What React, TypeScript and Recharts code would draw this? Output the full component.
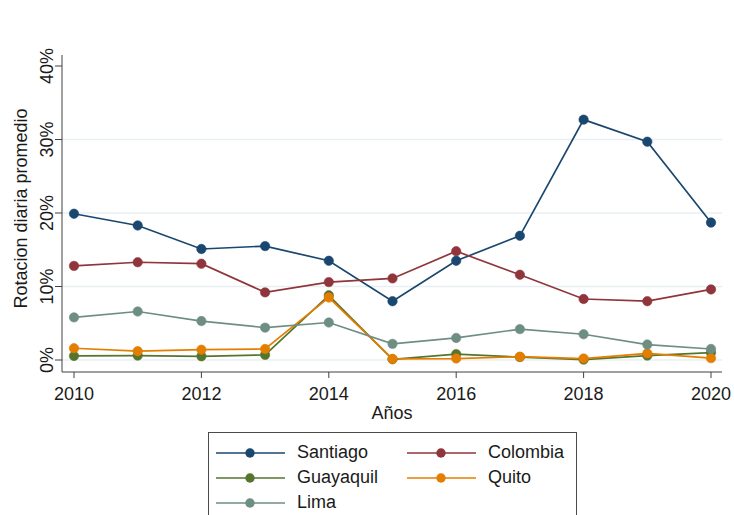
import React from 'react';
import { LineChart, Line, XAxis, YAxis, ReferenceLine, Legend } from 'recharts';

const years = [2010, 2011, 2012, 2013, 2014, 2015, 2016, 2017, 2018, 2019, 2020];
const santiago = [19.9, 18.3, 15.1, 15.5, 13.5, 8.0, 13.5, 16.9, 32.7, 29.7, 18.7];
const colombia = [12.8, 13.3, 13.1, 9.2, 10.6, 11.1, 14.8, 11.6, 8.3, 8.0, 9.6];
const guayaquil = [0.55, 0.6, 0.5, 0.7, 8.8, 0.1, 0.8, 0.4, 0.05, 0.6, 1.0];
const quito = [1.6, 1.2, 1.4, 1.5, 8.5, 0.15, 0.2, 0.45, 0.2, 0.9, 0.25];
const lima = [5.8, 6.6, 5.3, 4.4, 5.1, 2.2, 3.0, 4.2, 3.5, 2.1, 1.5];

const xTicks = [2010, 2012, 2014, 2016, 2018, 2020];
const yTicks = [0, 10, 20, 30, 40];
const gridValues = [0, 10, 20, 30];

const seriesNames = ['Santiago', 'Colombia', 'Guayaquil', 'Quito', 'Lima'];
const seriesColors = ['#1a476f', '#90353b', '#55752f', '#e37e00', '#6e8e84'];
const seriesValues = [santiago, colombia, guayaquil, quito, lima];

const data = years.map((year, i) => {
  const row: Record<string, number> = { year };
  seriesNames.forEach((name, s) => {
    row[name] = seriesValues[s][i];
  });
  return row;
});

const FONT = '"Liberation Sans", Arial, sans-serif';

// y tick labels are rotated like the Stata original
const YTick = (props: any) => {
  const { x, y, payload } = props;
  return (
    <text
      x={x}
      y={y}
      transform={`rotate(-90 ${x} ${y})`}
      textAnchor="middle"
      fontSize={18}
      fill="#1a1a1a"
      fontFamily={FONT}
    >
      {payload.value}%
    </text>
  );
};

const LegendBox = () => (
  <div
    style={{
      border: '1px solid #4a4a4a',
      boxSizing: 'border-box',
      width: 369,
      height: 100,
      background: '#fff',
      padding: '7px 0 0 7px',
      display: 'grid',
      gridTemplateColumns: '191px 170px',
      gridAutoRows: '25px',
      fontFamily: FONT,
      fontSize: 18,
      color: '#1a1a1a',
    }}
  >
    {seriesNames.map((name, i) => (
      <div key={name} style={{ display: 'flex', alignItems: 'center', height: 25 }}>
        <svg width={81} height={12} style={{ display: 'block' }}>
          <line x1={0} y1={6} x2={69} y2={6} stroke={seriesColors[i]} strokeWidth={1.7} />
          <circle cx={34} cy={6} r={4.7} fill={seriesColors[i]} />
        </svg>
        <span>{name}</span>
      </div>
    ))}
  </div>
);

export default function App() {
  return (
    <div style={{ position: 'absolute', left: 0, top: 0, width: 734, height: 515, overflow: 'hidden', background: '#fff' }}>
      <LineChart width={734} height={515} data={data} margin={{ top: 55, right: 12, bottom: 93, left: 0 }}>
        <XAxis
          dataKey="year"
          type="number"
          domain={[2010, 2020]}
          ticks={xTicks}
          padding={{ left: 12, right: 11 }}
          height={50}
          stroke="#404040"
          tickSize={6}
          tickMargin={9}
          tick={{ fontSize: 18, fill: '#1a1a1a', fontFamily: FONT }}
          label={{ value: 'Años', position: 'insideBottom', offset: 3, fontSize: 18, fill: '#1a1a1a', fontFamily: FONT }}
        />
        <YAxis
          type="number"
          domain={[0, 40]}
          ticks={yTicks}
          padding={{ top: 11, bottom: 12 }}
          width={62}
          stroke="#404040"
          tickSize={7}
          tickMargin={2}
          tick={<YTick />}
          label={{
            value: 'Rotacion diaria promedio',
            angle: -90,
            position: 'center',
            dx: -10.5,
            dy: -5,
            fontSize: 18,
            fill: '#1a1a1a',
            fontFamily: FONT,
          }}
        />
        {gridValues.map((v) => (
          <ReferenceLine key={v} y={v} stroke="#e8eff1" strokeWidth={1.5} />
        ))}
        <Legend
          layout="horizontal"
          verticalAlign="middle"
          align="center"
          content={<LegendBox />}
          wrapperStyle={{ left: 208, top: 432, width: 369 }}
        />
        {seriesNames.map((name, i) => (
          <Line
            key={name}
            dataKey={name}
            stroke={seriesColors[i]}
            strokeWidth={1.7}
            dot={{ r: 4.7, fill: seriesColors[i], stroke: seriesColors[i], strokeWidth: 0.6 }}
            activeDot={false}
            isAnimationActive={false}
          />
        ))}
      </LineChart>
    </div>
  );
}
